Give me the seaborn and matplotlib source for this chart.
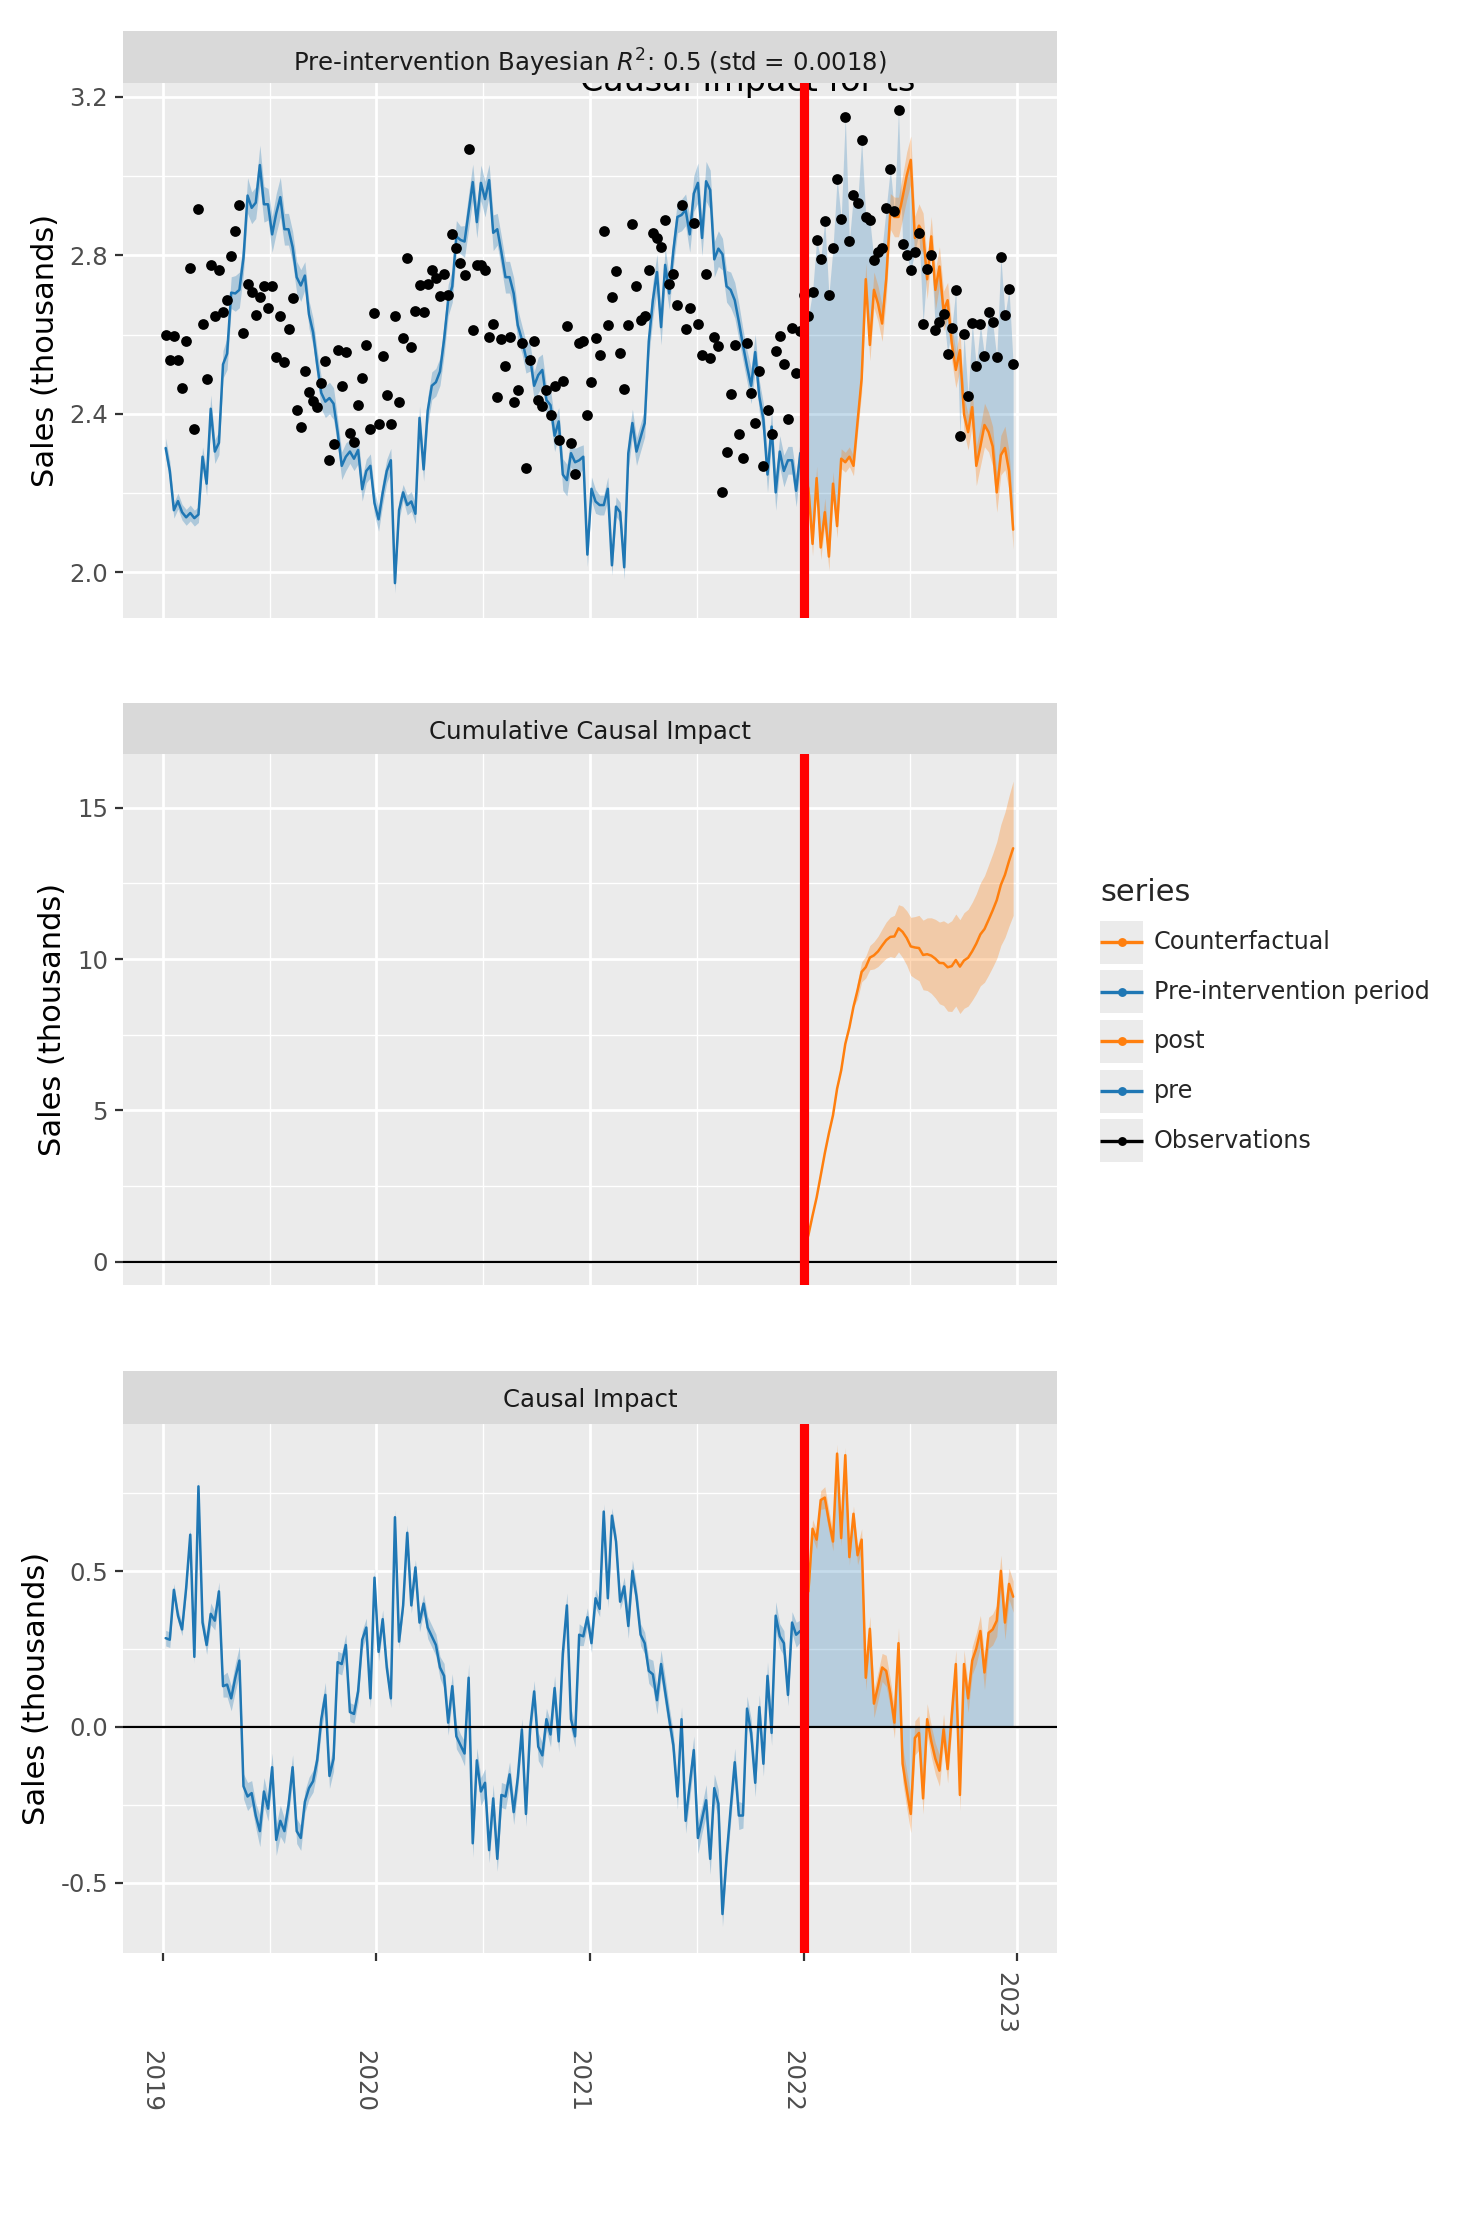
import numpy as np
import pandas as pd
import matplotlib
matplotlib.use("Agg")
import matplotlib.pyplot as plt
from matplotlib.patches import Rectangle
from matplotlib.transforms import ScaledTranslation
import seaborn as sns

# weekly observations, 2019 -> end of 2022
weeks = pd.date_range("2019-01-06", periods=208, freq="7D")
intervention = pd.Timestamp("2022-01-01")
n_pre = 156

# model prediction (pre-intervention fit)
predicted_pre = [
    2.314, 2.256, 2.157, 2.18, 2.152, 2.139, 2.15, 2.137, 2.146, 2.292,
    2.224, 2.413, 2.305, 2.327, 2.525, 2.552, 2.706, 2.704, 2.713, 2.794,
    2.951, 2.92, 2.933, 3.028, 2.929, 2.929, 2.853, 2.906, 2.947, 2.866,
    2.866, 2.821, 2.745, 2.724, 2.749, 2.651, 2.606, 2.525, 2.453, 2.431,
    2.44, 2.426, 2.354, 2.269, 2.292, 2.305, 2.287, 2.309, 2.21, 2.256,
    2.269, 2.175, 2.134, 2.201, 2.256, 2.283, 1.973, 2.157, 2.202, 2.17,
    2.179, 2.148, 2.39, 2.26, 2.408, 2.471, 2.48, 2.507, 2.588, 2.687,
    2.722, 2.848, 2.839, 2.835, 2.911, 2.985, 2.884, 2.983, 2.942, 2.99,
    2.857, 2.866, 2.808, 2.745, 2.745, 2.704, 2.624, 2.588, 2.543, 2.543,
    2.471, 2.498, 2.511, 2.435, 2.422, 2.345, 2.381, 2.247, 2.233, 2.301,
    2.278, 2.283, 2.292, 2.045, 2.211, 2.179, 2.17, 2.17, 2.211, 2.018,
    2.166, 2.152, 2.013, 2.301, 2.377, 2.305, 2.341, 2.377, 2.583, 2.687,
    2.758, 2.619, 2.776, 2.704, 2.812, 2.897, 2.902, 2.915, 2.853, 2.956,
    2.983, 2.844, 2.987, 2.965, 2.79, 2.817, 2.803, 2.722, 2.713, 2.687,
    2.633, 2.574, 2.52, 2.471, 2.556, 2.444, 2.386, 2.247, 2.368, 2.202,
    2.305, 2.256, 2.283, 2.283, 2.206, 2.301,
]
# counterfactual (post-intervention prediction)
predicted_post = [
    2.25, 2.211, 2.072, 2.238, 2.063, 2.152, 2.04, 2.224, 2.117, 2.287,
    2.278, 2.292, 2.269, 2.381, 2.489, 2.74, 2.574, 2.713, 2.678, 2.628,
    2.74, 2.911, 2.897, 2.897, 2.947, 3.001, 3.041, 2.844, 2.875, 2.857,
    2.74, 2.848, 2.713, 2.772, 2.66, 2.687, 2.579, 2.511, 2.561, 2.399,
    2.354, 2.417, 2.269, 2.318, 2.372, 2.354, 2.318, 2.202, 2.296, 2.314,
    2.256, 2.108,
]
# observed minus predicted
impact_pre = [
    0.285, 0.28, 0.44, 0.357, 0.313, 0.446, 0.617, 0.225, 0.772, 0.335,
    0.263, 0.363, 0.341, 0.435, 0.131, 0.136, 0.092, 0.158, 0.213, -0.19,
    -0.223, -0.212, -0.284, -0.334, -0.207, -0.262, -0.129, -0.362, -0.301, -0.334,
    -0.251, -0.129, -0.334, -0.356, -0.24, -0.196, -0.174, -0.107, 0.025, 0.103,
    -0.157, -0.102, 0.208, 0.202, 0.263, 0.048, 0.042, 0.114, 0.28, 0.319,
    0.092, 0.479, 0.241, 0.346, 0.191, 0.092, 0.673, 0.274, 0.39, 0.623,
    0.39, 0.512, 0.335, 0.396, 0.319, 0.291, 0.263, 0.191, 0.164, 0.014,
    0.131, -0.03, -0.058, -0.085, 0.158, -0.373, -0.107, -0.207, -0.179, -0.395,
    -0.229, -0.423, -0.218, -0.223, -0.152, -0.273, -0.163, -0.008, -0.279, -0.008,
    0.114, -0.063, -0.091, 0.025, -0.024, 0.125, -0.046, 0.236, 0.39, 0.025,
    -0.03, 0.296, 0.291, 0.352, 0.269, 0.413, 0.379, 0.691, 0.413, 0.678,
    0.595, 0.402, 0.451, 0.324, 0.501, 0.418, 0.296, 0.269, 0.18, 0.169,
    0.086, 0.202, 0.114, 0.025, -0.058, -0.223, 0.025, -0.301, -0.185, -0.074,
    -0.356, -0.295, -0.235, -0.423, -0.196, -0.246, -0.6, -0.417, -0.262, -0.113,
    -0.284, -0.284, 0.059, -0.019, -0.179, 0.064, -0.118, 0.164, -0.019, 0.357,
    0.291, 0.269, 0.103, 0.335, 0.296, 0.308,
]
impact_post = [
    0.45, 0.435, 0.636, 0.601, 0.728, 0.736, 0.661, 0.595, 0.877, 0.606,
    0.872, 0.545, 0.684, 0.551, 0.601, 0.158, 0.315, 0.075, 0.131, 0.191,
    0.18, 0.108, 0.014, 0.269, -0.118, -0.201, -0.279, -0.035, -0.019, -0.229,
    0.025, -0.046, -0.102, -0.14, -0.008, -0.135, 0.037, 0.202, -0.218, 0.202,
    0.092, 0.213, 0.252, 0.308, 0.175, 0.302, 0.313, 0.341, 0.501, 0.335,
    0.459, 0.418,
]
# half width of the credible interval
band_pre = [
    .025, .025, .02, .02, .02, .02, .02, .02, .02, .025,
    .03, .035, .03, .03, .035, .04, .04, .045, .045, .04,
    .045, .04, .04, .05, .045, .04, .045, .05, .05, .04,
    .04, .04, .04, .04, .035, .035, .035, .035, .04, .04,
    .04, .04, .035, .035, .035, .03, .03, .035, .03, .03,
    .03, .03, .03, .03, .03, .03, .025, .025, .02, .025,
    .025, .025, .03, .03, .035, .035, .035, .035, .04, .04,
    .04, .04, .035, .04, .045, .045, .04, .045, .045, .04,
    .045, .04, .04, .04, .04, .04, .04, .035, .04, .035,
    .035, .045, .04, .035, .04, .04, .035, .04, .04, .035,
    .035, .035, .03, .03, .03, .03, .025, .025, .03, .025,
    .025, .025, .03, .04, .035, .035, .035, .035, .04, .045,
    .045, .045, .045, .04, .04, .04, .04, .04, .045, .045,
    .05, .045, .05, .05, .045, .045, .04, .04, .045, .045,
    .045, .04, .04, .045, .045, .04, .04, .045, .04, .045,
    .04, .04, .035, .035, .04, .035,
]
band_post = [
    .03, .03, .03, .03, .03, .035, .035, .03, .03, .025,
    .025, .025, .025, .03, .035, .04, .04, .045, .045, .045,
    .05, .045, .05, .05, .055, .06, .06, .055, .055, .05,
    .05, .05, .05, .05, .05, .045, .045, .045, .05, .045,
    .045, .045, .05, .05, .055, .05, .05, .05, .05, .055,
    .05, .05,
]
cum_band = [
    0, 0, 0, 0, 0, 0, 0, 0, 0, 0,
    0, 0, 0, 0.3, 0.33, 0.36, 0.4, 0.45, 0.5, 0.55,
    0.6, 0.65, 0.7, 0.78, 0.85, 0.9, 0.96, 1.02, 1.08, 1.15,
    1.2, 1.25, 1.3, 1.35, 1.4, 1.45, 1.5, 1.52, 1.55, 1.58,
    1.6, 1.62, 1.65, 1.7, 1.76, 1.82, 1.87, 1.93, 2.0, 2.07,
    2.15, 2.22,
]

strip_titles = [
    "Pre-intervention Bayesian $R^2$: 0.5 (std = 0.0018)",
    "Cumulative Causal Impact",
    "Causal Impact",
]
year_labels = ["2019", "2020", "2021", "2022", "2023"]
legend_labels = ["Counterfactual", "Pre-intervention period", "post", "pre", "Observations"]

blue = "#1f77b4"
orange = "#ff7f0e"
legend_colors = [orange, blue, orange, blue, "black"]

pre = pd.DataFrame({"date": weeks[:n_pre], "pred": predicted_pre,
                    "impact": impact_pre, "band": band_pre})
post = pd.DataFrame({"date": weeks[n_pre:], "pred": predicted_post,
                     "impact": impact_post, "band": band_post, "cum_band": cum_band})
pre["obs"] = pre["pred"] + pre["impact"]
post["obs"] = post["pred"] + post["impact"]
post["cum"] = post["impact"].cumsum()
obs = pd.concat([pre[["date", "obs"]], post[["date", "obs"]]])

sns.set_style("darkgrid", {"axes.facecolor": "#EBEBEB", "grid.color": "white"})
plt.rcParams["font.family"] = ["DejaVu Sans"]

W, H = 1468, 2240
fig = plt.figure(figsize=(W / 200, H / 200), dpi=200)


def px_rect(left, top, right, bottom):
    return [left / W, 1 - bottom / H, (right - left) / W, (bottom - top) / H]


year_dates = pd.to_datetime([f"{y}-01-01" for y in year_labels])
mid_dates = year_dates[:-1] + (year_dates[1:] - year_dates[:-1]) / 2
x_start = year_dates[0] - pd.Timedelta(days=68)
x_end = year_dates[0] + pd.Timedelta(days=1529)


def style_panel(ax, yticks, ylabels, ylim, bottom):
    ax.set_facecolor("#EBEBEB")
    ax.set_xlim(x_start, x_end)
    ax.set_xticks(year_dates)
    ax.set_xticks(mid_dates, minor=True)
    ax.set_yticks(yticks)
    ax.set_yticklabels(ylabels)
    step = yticks[1] - yticks[0]
    ax.set_yticks([t + step / 2 for t in [yticks[0] - step] + list(yticks)], minor=True)
    ax.set_ylim(*ylim)
    ax.grid(which="major", color="white", lw=1.0)
    ax.grid(which="minor", color="white", lw=0.5)
    ax.set_axisbelow(True)
    for s in ax.spines.values():
        s.set_visible(False)
    ax.tick_params(which="minor", length=0)
    ax.tick_params(axis="y", which="major", length=2.9, width=0.8, color="#333333",
                   labelsize=8.8, labelcolor="#4D4D4D", pad=2.5, left=True)
    ax.set_ylabel("Sales (thousands)", fontsize=11, labelpad=3.5, color="black")
    ax.set_xlabel("")
    if bottom:
        ax.tick_params(axis="x", which="major", length=2.9, width=0.8, color="#333333",
                       labelsize=8.8, labelcolor="#4D4D4D", pad=4, bottom=True)
    else:
        ax.tick_params(axis="x", which="major", length=0, labelbottom=False)


def add_strip(rect, text, drop):
    sax = fig.add_axes(px_rect(*rect), zorder=2)
    sax.set_facecolor("#D9D9D9")
    sax.set_xticks([])
    sax.set_yticks([])
    for s in sax.spines.values():
        s.set_visible(False)
    height = rect[3] - rect[1]
    sax.text(0.5, 0.5 - drop / height, text, ha="center", va="center", fontsize=8.8,
             color="#1A1A1A", transform=sax.transAxes)


# ---- panel 1: observations and prediction
ax1 = fig.add_axes(px_rect(123, 83, 1057, 618), zorder=1)
ax1.fill_between(pre["date"], pre["pred"] - pre["band"], pre["pred"] + pre["band"],
                 color=blue, alpha=0.3, lw=0, zorder=1.5)
ax1.fill_between(post["date"], post["pred"] - post["band"], post["pred"] + post["band"],
                 color=orange, alpha=0.3, lw=0, zorder=1.5)
ax1.fill_between(post["date"], post["obs"], post["pred"], color=blue, alpha=0.25,
                 lw=0, zorder=1.4)
sns.lineplot(data=pre, x="date", y="pred", color=blue, lw=0.9, estimator=None,
             ax=ax1, zorder=2)
sns.lineplot(data=post, x="date", y="pred", color=orange, lw=0.9, estimator=None,
             ax=ax1, zorder=2)
sns.scatterplot(data=obs, x="date", y="obs", color="black", s=15, linewidth=0,
                ax=ax1, zorder=3)
ax1.axvline(intervention, color="red", lw=3.3, zorder=5)
ax1.text(0.5096, 1 - 91 / H, "Causal Impact for ts", transform=fig.transFigure,
         ha="center", va="baseline", fontsize=12, color="black", zorder=4,
         clip_on=False)
style_panel(ax1, [2.0, 2.4, 2.8, 3.2], ["2.0", "2.4", "2.8", "3.2"], (1.885, 3.235), False)
add_strip((123, 31, 1057, 83), strip_titles[0], 6)

# ---- panel 2: cumulative impact
ax2 = fig.add_axes(px_rect(123, 754, 1057, 1285), zorder=1)
ax2.fill_between(post["date"], post["cum"] - post["cum_band"], post["cum"] + post["cum_band"],
                 color=orange, alpha=0.3, lw=0, zorder=1.5)
sns.lineplot(data=post, x="date", y="cum", color=orange, lw=0.9, estimator=None,
             ax=ax2, zorder=2)
ax2.axhline(0, color="black", lw=0.8, zorder=2.5)
ax2.axvline(intervention, color="red", lw=3.3, zorder=5)
style_panel(ax2, [0, 5, 10, 15], ["0", "5", "10", "15"], (-0.77, 16.78), False)
add_strip((123, 703, 1057, 754), strip_titles[1], 3)

# ---- panel 3: pointwise impact
ax3 = fig.add_axes(px_rect(123, 1424, 1057, 1953), zorder=1)
ax3.fill_between(pre["date"], pre["impact"] - pre["band"], pre["impact"] + pre["band"],
                 color=blue, alpha=0.3, lw=0, zorder=1.5)
ax3.fill_between(post["date"], post["impact"] - post["band"], post["impact"] + post["band"],
                 color=orange, alpha=0.3, lw=0, zorder=1.5)
ax3.fill_between(post["date"], 0, post["impact"], color=blue, alpha=0.25, lw=0, zorder=1.4)
sns.lineplot(data=pre, x="date", y="impact", color=blue, lw=0.9, estimator=None,
             ax=ax3, zorder=2)
sns.lineplot(data=post, x="date", y="impact", color=orange, lw=0.9, estimator=None,
             ax=ax3, zorder=2)
ax3.axhline(0, color="black", lw=0.8, zorder=2.5)
ax3.axvline(intervention, color="red", lw=3.3, zorder=5)
style_panel(ax3, [-0.5, 0.0, 0.5], ["-0.5", "0.0", "0.5"], (-0.725, 0.972), True)
ax3.set_xticklabels(year_labels, rotation=-90, ha="center", va="top")
for i, lab in enumerate(ax3.get_xticklabels()):
    dy = -78 / 200 if i < 4 else 0
    lab.set_transform(lab.get_transform() + ScaledTranslation(-12 / 200, dy, fig.dpi_scale_trans))
add_strip((123, 1371, 1057, 1424), strip_titles[2], 3)

# ---- legend
leg = fig.add_axes(px_rect(1080, 860, 1460, 1180))
leg.set_xlim(1080, 1460)
leg.set_ylim(1180, 860)
leg.axis("off")
leg.text(1100, 901, "series", fontsize=11, va="baseline", ha="left")
for i, (lab, col) in enumerate(zip(legend_labels, legend_colors)):
    yc = 942 + 49.7 * i
    leg.add_patch(Rectangle((1100, yc - 21.5), 43, 43, color="#EBEBEB", lw=0))
    leg.plot([1100, 1143], [yc, yc], color=col, lw=1.2, solid_capstyle="butt")
    leg.plot([1121.5], [yc], "o", color=col, ms=3.2, mew=0)
    leg.text(1154, yc, lab, fontsize=8.6, va="center", ha="left")

fig.savefig("out.png", dpi=200)
